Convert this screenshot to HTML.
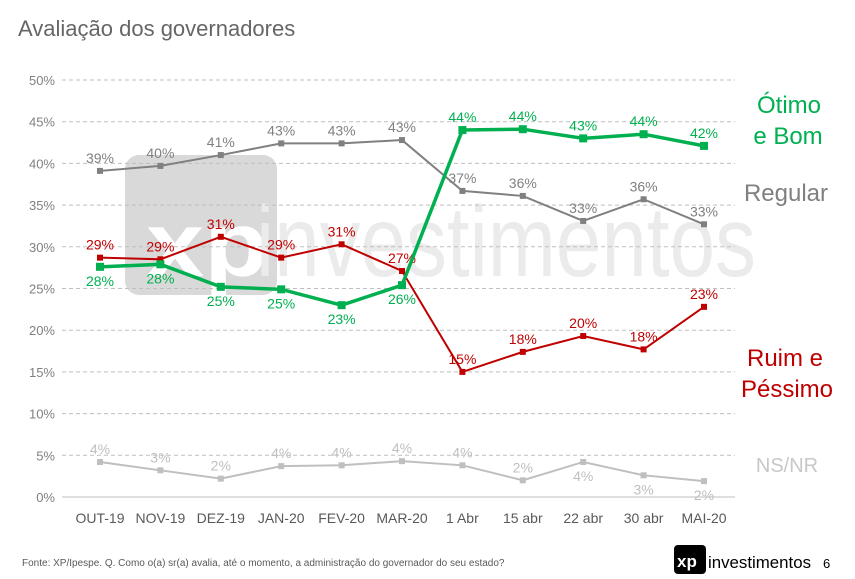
<!DOCTYPE html>
<html><head><meta charset="utf-8"><style>
body{margin:0;background:#fff;width:855px;height:579px;overflow:hidden;font-family:"Liberation Sans",sans-serif}
svg{display:block}
</style></head><body>
<svg id="c" width="855" height="579">
<text x="18" y="36" font-size="22" fill="#666">Avaliação dos governadores</text>
<g>
<rect x="125" y="155" width="152" height="140" rx="14" fill="#d9d9d9"/>
<text x="146" y="276" font-size="92" font-weight="bold" fill="#fff" textLength="122" lengthAdjust="spacingAndGlyphs">xp</text>
<text x="256" y="276" font-size="100" fill="#ebebeb" textLength="500" lengthAdjust="spacingAndGlyphs">investimentos</text>
</g>
<g id="grid"></g><g id="series"></g>
<text x="789" y="113" font-size="24" fill="#00b050" text-anchor="middle">Ótimo</text>
<text x="788" y="144" font-size="24" fill="#00b050" text-anchor="middle">e Bom</text>
<text x="786" y="201" font-size="24" fill="#808080" text-anchor="middle">Regular</text>
<text x="785" y="366" font-size="24" fill="#c00000" text-anchor="middle">Ruim e</text>
<text x="787" y="397" font-size="24" fill="#c00000" text-anchor="middle">Péssimo</text>
<text x="787" y="472" font-size="20" fill="#c8c8c8" text-anchor="middle">NS/NR</text>
<text x="22" y="566" font-size="10" fill="#595959">Fonte: XP/Ipespe. Q. Como o(a) sr(a) avalia, até o momento, a administração do governador do seu estado?</text>
<g>
<rect x="674" y="545" width="32" height="29" rx="4" fill="#000"/>
<text x="677" y="567" font-size="17" font-weight="bold" fill="#fff">xp</text>
<text x="708" y="568" font-size="17" fill="#000" textLength="103" lengthAdjust="spacingAndGlyphs">investimentos</text>
</g>
<text x="823" y="568" font-size="13" fill="#000">6</text>
</svg>
<script>
const categories=["OUT-19","NOV-19","DEZ-19","JAN-20","FEV-20","MAR-20","1 Abr","15 abr","22 abr","30 abr","MAI-20"];
const yTicks=[0,5,10,15,20,25,30,35,40,45,50];
const otimoVals=[27.6,27.9,25.2,24.9,23.0,25.4,44.0,44.1,43.0,43.5,42.1];
const otimoLabels=["28%","28%","25%","25%","23%","26%","44%","44%","43%","44%","42%"];
const regularVals=[39.1,39.7,41.0,42.4,42.4,42.8,36.7,36.1,33.1,35.7,32.7];
const regularLabels=["39%","40%","41%","43%","43%","43%","37%","36%","33%","36%","33%"];
const ruimVals=[28.7,28.5,31.2,28.7,30.3,27.1,15.0,17.4,19.3,17.7,22.8];
const ruimLabels=["29%","29%","31%","29%","31%","27%","15%","18%","20%","18%","23%"];
const nsVals=[4.2,3.2,2.2,3.7,3.8,4.3,3.8,2.0,4.2,2.6,1.9];
const nsLabels=["4%","3%","2%","4%","4%","4%","4%","2%","4%","3%","2%"];
const NS="http://www.w3.org/2000/svg";
const x=i=>100+i*60.4, y=v=>497-v*8.34;
function mk(p,t,a){const e=document.createElementNS(NS,t);for(const k in a)e.setAttribute(k,a[k]);p.appendChild(e);return e;}
const grid=document.getElementById('grid'), ser=document.getElementById('series');
yTicks.forEach(t=>{
  if(t>0){const l=mk(grid,'line',{x1:62,x2:735,y1:y(t),y2:y(t),stroke:'#bfbfbf','stroke-dasharray':'4,3'});
  
  }
  const tx=mk(grid,'text',{x:55,y:y(t)+5,'font-size':13,fill:'#808080','text-anchor':'end'});tx.textContent=t+'%';
  
  
});
const ax=mk(grid,'line',{x1:62,x2:735,y1:497,y2:497,stroke:'#bfbfbf'});


categories.forEach((c,i)=>{const t=mk(grid,'text',{x:x(i),y:523,'font-size':14,fill:'#595959','text-anchor':'middle'});t.textContent=c;
  
  });
function series(name,vals,labels,color,w,ms,below){
  const g=mk(ser,'g',{});
  
  
  mk(g,'polyline',{points:vals.map((v,i)=>x(i)+','+y(v)).join(' '),fill:'none',stroke:color,'stroke-width':w});
  vals.forEach((v,i)=>{
    const r=mk(g,'rect',{x:x(i)-ms/2,y:y(v)-ms/2,width:ms,height:ms,fill:color});
    
    
    const b=below[i];
    const t=mk(g,'text',{x:x(i),y:b?y(v)+19:y(v)-8,'font-size':14,fill:color,'text-anchor':'middle'});
    t.textContent=labels[i];
    
    
  });
}
series('ns-nr',nsVals,nsLabels,'#bfbfbf',2,6,[0,0,0,0,0,0,0,0,1,1,1]);
series('regular',regularVals,regularLabels,'#808080',2,6,[0,0,0,0,0,0,0,0,0,0,0]);
series('ruim-pessimo',ruimVals,ruimLabels,'#c00000',2,6,[0,0,0,0,0,0,0,0,0,0,0]);
series('otimo-bom',otimoVals,otimoLabels,'#00b050',3.5,8,[1,1,1,1,1,1,0,0,0,0,0]);
</script>
</body></html>
